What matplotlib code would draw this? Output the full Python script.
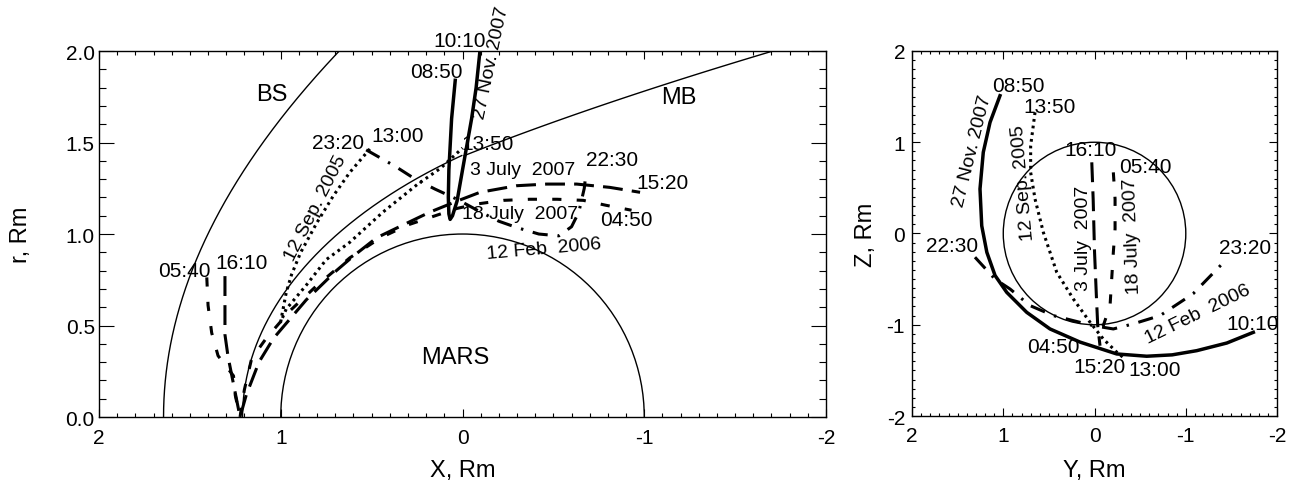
import matplotlib
matplotlib.use('Agg')
import matplotlib.pyplot as plt
import numpy as np
from matplotlib.patches import Arc, Circle
from matplotlib.ticker import MultipleLocator, FormatStrFormatter

plt.rcParams.update({'font.family': ['Liberation Sans', 'DejaVu Sans']})
plt.rcParams.update({'axes.unicode_minus': False})
plt.rcParams.update({'font.size': 15})

# model boundaries as conics: focus x0, semi-latus rectum L, eccentricity e
bs_x0, bs_L, bs_e = 0.64, 2.04, 1.03
mb_day_x0, mb_day_L, mb_day_e = 0.64, 1.04, 0.824
mb_night_x0, mb_night_L, mb_night_e = 1.60, 0.528, 1.009

# ---- left panel: X, r (cylindrical) ----
nov27_x = [0.04, 0.06, 0.075, 0.078, 0.075, 0.068, 0.055, 0.03, 0.0, -0.05, -0.075, -0.096]
nov27_r = [1.84, 1.63, 1.35, 1.2, 1.11, 1.08, 1.10, 1.18, 1.35, 1.63, 1.8, 2.0]

sep12_x = [0.51, 0.62, 0.71, 0.80, 0.89, 0.94, 0.97, 0.995, 1.0,
           0.97, 0.86, 0.75, 0.62, 0.44, 0.25, 0.12, 0.0]
sep12_r = [1.465, 1.337, 1.21, 1.064, 0.90, 0.78, 0.68, 0.55, 0.52,
           0.59, 0.72, 0.86, 0.955, 1.118, 1.27, 1.36, 1.47]

feb12_x = [0.53, 0.37, 0.26, 0.15, 0.03, -0.1, -0.2, -0.3, -0.42, -0.53, -0.6, -0.64, -0.67, -0.68]
feb12_r = [1.46, 1.37, 1.30, 1.245, 1.19, 1.12, 1.07, 1.035, 1.0, 0.99, 1.04, 1.12, 1.25, 1.34]

jul3_x = [1.307, 1.307, 1.29, 1.26, 1.224, 1.19, 1.12, 1.04, 0.86, 0.694, 0.60, 0.472,
          0.326, 0.179, 0.03, -0.096, -0.298, -0.463, -0.628, -0.81, -0.977]
jul3_r = [0.77, 0.45, 0.33, 0.18, 0.0, 0.12, 0.30, 0.43, 0.64, 0.80, 0.88, 0.98,
          1.05, 1.12, 1.18, 1.228, 1.264, 1.273, 1.273, 1.255, 1.228]

jul18_x = [1.407, 1.40, 1.38, 1.345, 1.26, 1.25, 1.224, 1.2, 1.16, 1.08, 0.95, 0.80, 0.62,
           0.45, 0.30, 0.15, 0.03, -0.078, -0.225, -0.37, -0.52, -0.665, -0.79, -0.93]
jul18_r = [0.763, 0.61, 0.46, 0.335, 0.225, 0.117, 0.0, 0.15, 0.32, 0.43, 0.58, 0.72, 0.87,
           0.98, 1.05, 1.10, 1.14, 1.164, 1.184, 1.19, 1.19, 1.184, 1.157, 1.13]

# ---- right panel: Y, Z ----
nov27_y = [1.036, 1.145, 1.219, 1.255, 1.236, 1.18, 1.09, 0.962, 0.743, 0.488, 0.159,
           -0.243, -0.572, -0.85, -1.12, -1.45, -1.74]
nov27_z = [1.51, 1.218, 0.89, 0.488, 0.085, -0.206, -0.46, -0.645, -0.864, -1.046, -1.19,
           -1.32, -1.345, -1.33, -1.284, -1.2, -1.083]

sep12_y = [0.652, 0.70, 0.70, 0.652, 0.561, 0.414, 0.232, 0.049, -0.096, -0.243, -0.316]
sep12_z = [1.328, 0.962, 0.67, 0.378, 0.013, -0.425, -0.718, -0.973, -1.156, -1.30, -1.36]

jul3_y = [0.03, 0.015, 0.0, -0.02, -0.035, -0.06]
jul3_z = [0.78, 0.378, -0.2, -0.68, -1.01, -1.23]

jul18_y = [-0.206, -0.225, -0.225, -0.206, -0.188, -0.17, -0.096, -0.04]
jul18_z = [0.67, 0.378, 0.05, -0.206, -0.5, -0.79, -1.01, -1.05]

feb12_y = [1.31, 1.09, 0.926, 0.707, 0.45, 0.232, 0.013, -0.206, -0.425, -0.718, -1.08, -1.43]
feb12_z = [-0.26, -0.5, -0.608, -0.79, -0.9, -0.955, -1.01, -1.046, -0.99, -0.9, -0.66, -0.3]

# line styles
st_nov = dict(color='k', lw=2.5, ls='-')
st_sep = dict(color='k', lw=2.2, ls=(0, (0.9, 1.3)))
st_jul3 = dict(color='k', lw=2.2, ls=(0, (6.5, 3)))
st_jul18 = dict(color='k', lw=2.2, ls=(0, (3, 5)))
st_feb = dict(color='k', lw=2.2, ls=(0, (5, 3.2, 0.8, 3.2)))


def conic(x0, L, e, theta):
    r = L / (1 + e * np.cos(theta))
    return x0 + r * np.cos(theta), r * np.sin(theta)


fig = plt.figure(figsize=(13.01, 4.85), dpi=100)
ax1 = fig.add_axes([0.0761, 0.1381, 0.5588, 0.7546])
ax2 = fig.add_axes([0.701, 0.1402, 0.2806, 0.7526])

# left panel boundaries
th = np.linspace(0, 2.6, 800)
bx, by = conic(bs_x0, bs_L, bs_e, th)
m = by < 2.1
ax1.plot(bx[m], by[m], color='k', lw=1.0)
th = np.linspace(0, np.pi, 800)
dx, dy = conic(mb_day_x0, mb_day_L, mb_day_e, th)
m = dx >= 0
ax1.plot(dx[m], dy[m], color='k', lw=1.0)
th = np.linspace(0.5, 2.95, 1500)
nx, ny = conic(mb_night_x0, mb_night_L, mb_night_e, th)
m = (nx < 0) & (ny < 2.1)
ax1.plot(nx[m], ny[m], color='k', lw=1.0)
ax1.add_patch(Arc((0, 0), 2, 2, theta1=0, theta2=180, color='k', lw=1.0))

ax1.plot(nov27_x, nov27_r, **st_nov)
ax1.plot(sep12_x, sep12_r, **st_sep)
ax1.plot(feb12_x, feb12_r, **st_feb)
ax1.plot(jul3_x, jul3_r, **st_jul3)
ax1.plot(jul18_x, jul18_r, **st_jul18)

ax1.text(1.05, 1.765, 'BS', ha='center', va='center', fontsize=17)
ax1.text(-1.19, 1.75, 'MB', ha='center', va='center', fontsize=17)
ax1.text(0.04, 0.33, 'MARS', ha='center', va='center', fontsize=17)
ax1.text(0.014, 2.06, '10:10', ha='center', va='center')
ax1.text(-0.157, 1.94, '27 Nov. 2007', ha='center', va='center', rotation=78, fontsize=14)
ax1.text(0.142, 1.89, '08:50', ha='center', va='center')
ax1.text(0.685, 1.50, '23:20', ha='center', va='center')
ax1.text(0.358, 1.54, '13:00', ha='center', va='center')
ax1.text(0.806, 1.148, '12 Sep. 2005', ha='center', va='center', rotation=63, fontsize=14)
ax1.text(-0.137, 1.494, '13:50', ha='center', va='center')
ax1.text(-0.333, 1.35, '3 July  2007', ha='center', va='center', fontsize=14)
ax1.text(-0.825, 1.406, '22:30', ha='center', va='center')
ax1.text(-1.10, 1.28, '15:20', ha='center', va='center')
ax1.text(-0.316, 1.11, '18 July  2007', ha='center', va='center', fontsize=14)
ax1.text(-0.9, 1.078, '04:50', ha='center', va='center')
ax1.text(-0.45, 0.92, '12 Feb  2006', ha='center', va='center', rotation=5, fontsize=14)
ax1.text(1.53, 0.80, '05:40', ha='center', va='center')
ax1.text(1.215, 0.845, '16:10', ha='center', va='center')

ax1.set_xlim(2, -2)
ax1.set_ylim(0, 2)
ax1.xaxis.set_major_locator(MultipleLocator(1))
ax1.xaxis.set_minor_locator(MultipleLocator(0.1))
ax1.yaxis.set_major_locator(MultipleLocator(0.5))
ax1.yaxis.set_minor_locator(MultipleLocator(0.1))
ax1.xaxis.set_major_formatter(FormatStrFormatter('%d'))
ax1.yaxis.set_major_formatter(FormatStrFormatter('%.1f'))
ax1.tick_params(which='both', direction='in', top=True, right=True, width=0.8)
ax1.tick_params(axis='x', which='major', length=5.5, pad=8)
ax1.tick_params(axis='x', which='minor', length=3)
ax1.tick_params(axis='y', which='major', length=10.8, pad=3)
ax1.tick_params(axis='y', which='minor', length=5)
ax1.set_xlabel('X, Rm', fontsize=17)
ax1.set_ylabel('r, Rm', fontsize=17)
ax1.xaxis.set_label_coords(0.5, -0.115)
ax1.yaxis.set_label_coords(-0.092, 0.5)

# right panel
ax2.add_patch(Circle((0, 0), 1, fill=False, color='k', lw=1.0))
ax2.plot(nov27_y, nov27_z, **st_nov)
ax2.plot(sep12_y, sep12_z, **st_sep)
ax2.plot(jul3_y, jul3_z, **st_jul3)
ax2.plot(jul18_y, jul18_z, **st_jul18)
ax2.plot(feb12_y, feb12_z, **st_feb)

ax2.text(0.838, 1.62, '08:50', ha='center', va='center')
ax2.text(0.488, 1.39, '13:50', ha='center', va='center')
ax2.text(1.337, 0.915, '27 Nov. 2007', ha='center', va='center', rotation=76, fontsize=14)
ax2.text(0.78, 0.56, '12 Sep. 2005', ha='center', va='center', rotation=95, fontsize=14)
ax2.text(0.04, 0.917, '16:10', ha='center', va='center')
ax2.text(-0.553, 0.734, '05:40', ha='center', va='center')
ax2.text(0.126, -0.04, '3 July  2007', ha='center', va='center', rotation=90, fontsize=14)
ax2.text(-0.416, -0.024, '18 July  2007', ha='center', va='center', rotation=92, fontsize=14)
ax2.text(1.556, -0.133, '22:30', ha='center', va='center')
ax2.text(-1.65, -0.15, '23:20', ha='center', va='center')
ax2.text(-1.13, -0.88, '12 Feb  2006', ha='center', va='center', rotation=26, fontsize=14)
ax2.text(-1.73, -0.99, '10:10', ha='center', va='center')
ax2.text(0.45, -1.24, '04:50', ha='center', va='center')
ax2.text(-0.05, -1.46, '15:20', ha='center', va='center')
ax2.text(-0.663, -1.485, '13:00', ha='center', va='center')

ax2.set_xlim(2, -2)
ax2.set_ylim(-2, 2)
ax2.xaxis.set_major_locator(MultipleLocator(1))
ax2.xaxis.set_minor_locator(MultipleLocator(0.1))
ax2.yaxis.set_major_locator(MultipleLocator(1))
ax2.yaxis.set_minor_locator(MultipleLocator(0.1))
ax2.xaxis.set_major_formatter(FormatStrFormatter('%d'))
ax2.yaxis.set_major_formatter(FormatStrFormatter('%d'))
ax2.tick_params(which='both', direction='in', top=True, right=True, width=0.8)
ax2.tick_params(which='major', length=5.5)
ax2.tick_params(which='minor', length=2.5)
ax2.tick_params(axis='x', which='major', pad=7)
ax2.tick_params(axis='y', which='major', pad=5)
ax2.set_xlabel('Y, Rm', fontsize=17)
ax2.set_ylabel('Z, Rm', fontsize=17)
ax2.xaxis.set_label_coords(0.5, -0.118)
ax2.yaxis.set_label_coords(-0.096, 0.5)

for ax in (ax1, ax2):
    for sp in ax.spines.values():
        sp.set_linewidth(1.0)

fig.savefig('out.png', dpi=100)
